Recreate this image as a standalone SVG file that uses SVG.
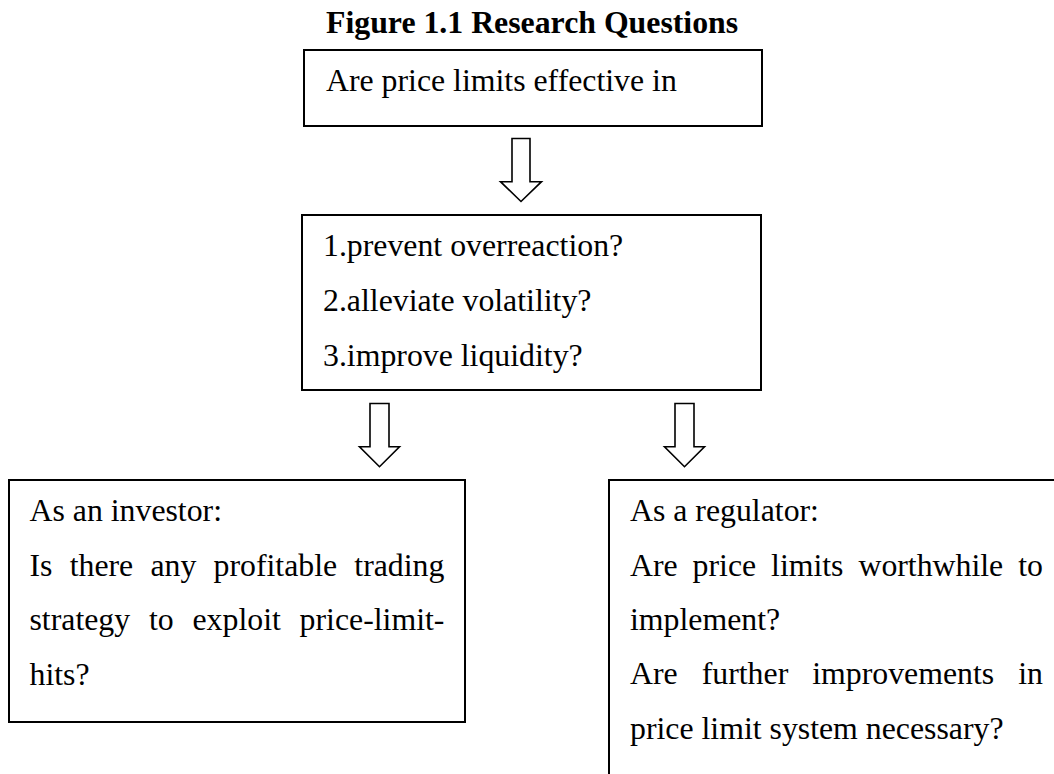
<svg xmlns="http://www.w3.org/2000/svg" width="1054" height="774" viewBox="0 0 1054 774">
<style>
.box{fill:#fff;stroke:#000;stroke-width:2}
.arr{fill:#fff;stroke:#000;stroke-width:1.6;stroke-linejoin:miter}
text{font-family:"Liberation Serif","Times New Roman",serif;font-size:31.8px;fill:#000}
.title{font-weight:bold}
</style>
<rect width="1054" height="774" fill="#fff"/>
<text class="title" x="326" y="33">Figure 1.1 Research Questions</text>
<g id="node-q">
<rect class="box" x="304" y="50" width="458" height="76"/>
<text x="326" y="91">Are price limits effective in</text>
</g>
<g id="node-list">
<rect class="box" x="302" y="215" width="459" height="175"/>
<text x="323" y="256">1.prevent overreaction?</text>
<text x="323" y="311">2.alleviate volatility?</text>
<text x="323" y="365.5">3.improve liquidity?</text>
</g>
<g id="node-investor">
<rect class="box" x="9" y="480" width="456" height="242"/>
<text x="29.5" y="520.5">As an investor:</text>
<text x="29.5" y="575.5" word-spacing="9.25">Is there any profitable trading</text>
<text x="29.5" y="630" word-spacing="10.85">strategy to exploit price-limit-</text>
<text x="29.5" y="685">hits?</text>
</g>
<g id="node-regulator">
<rect class="box" x="609" y="480" width="456" height="330"/>
<text x="630" y="520.5">As a regulator:</text>
<text x="630" y="575.5" word-spacing="6.97">Are price limits worthwhile to</text>
<text x="630" y="629.5">implement?</text>
<text x="630" y="683.5" word-spacing="16.1">Are further improvements in</text>
<text x="630" y="738.5">price limit system necessary?</text>
</g>
<g id="connectors">
<polygon class="arr" points="512,138.5 530,138.5 530,181.7 541.5,181.7 521,201.5 500.5,181.7 512,181.7"/>
<polygon class="arr" points="370,403.5 389,403.5 389,446.7 399.5,446.7 379.5,466.7 359.5,446.7 370,446.7"/>
<polygon class="arr" points="675,403.5 694,403.5 694,446.7 704.5,446.7 684.5,466.7 664.5,446.7 675,446.7"/>
</g>
</svg>
